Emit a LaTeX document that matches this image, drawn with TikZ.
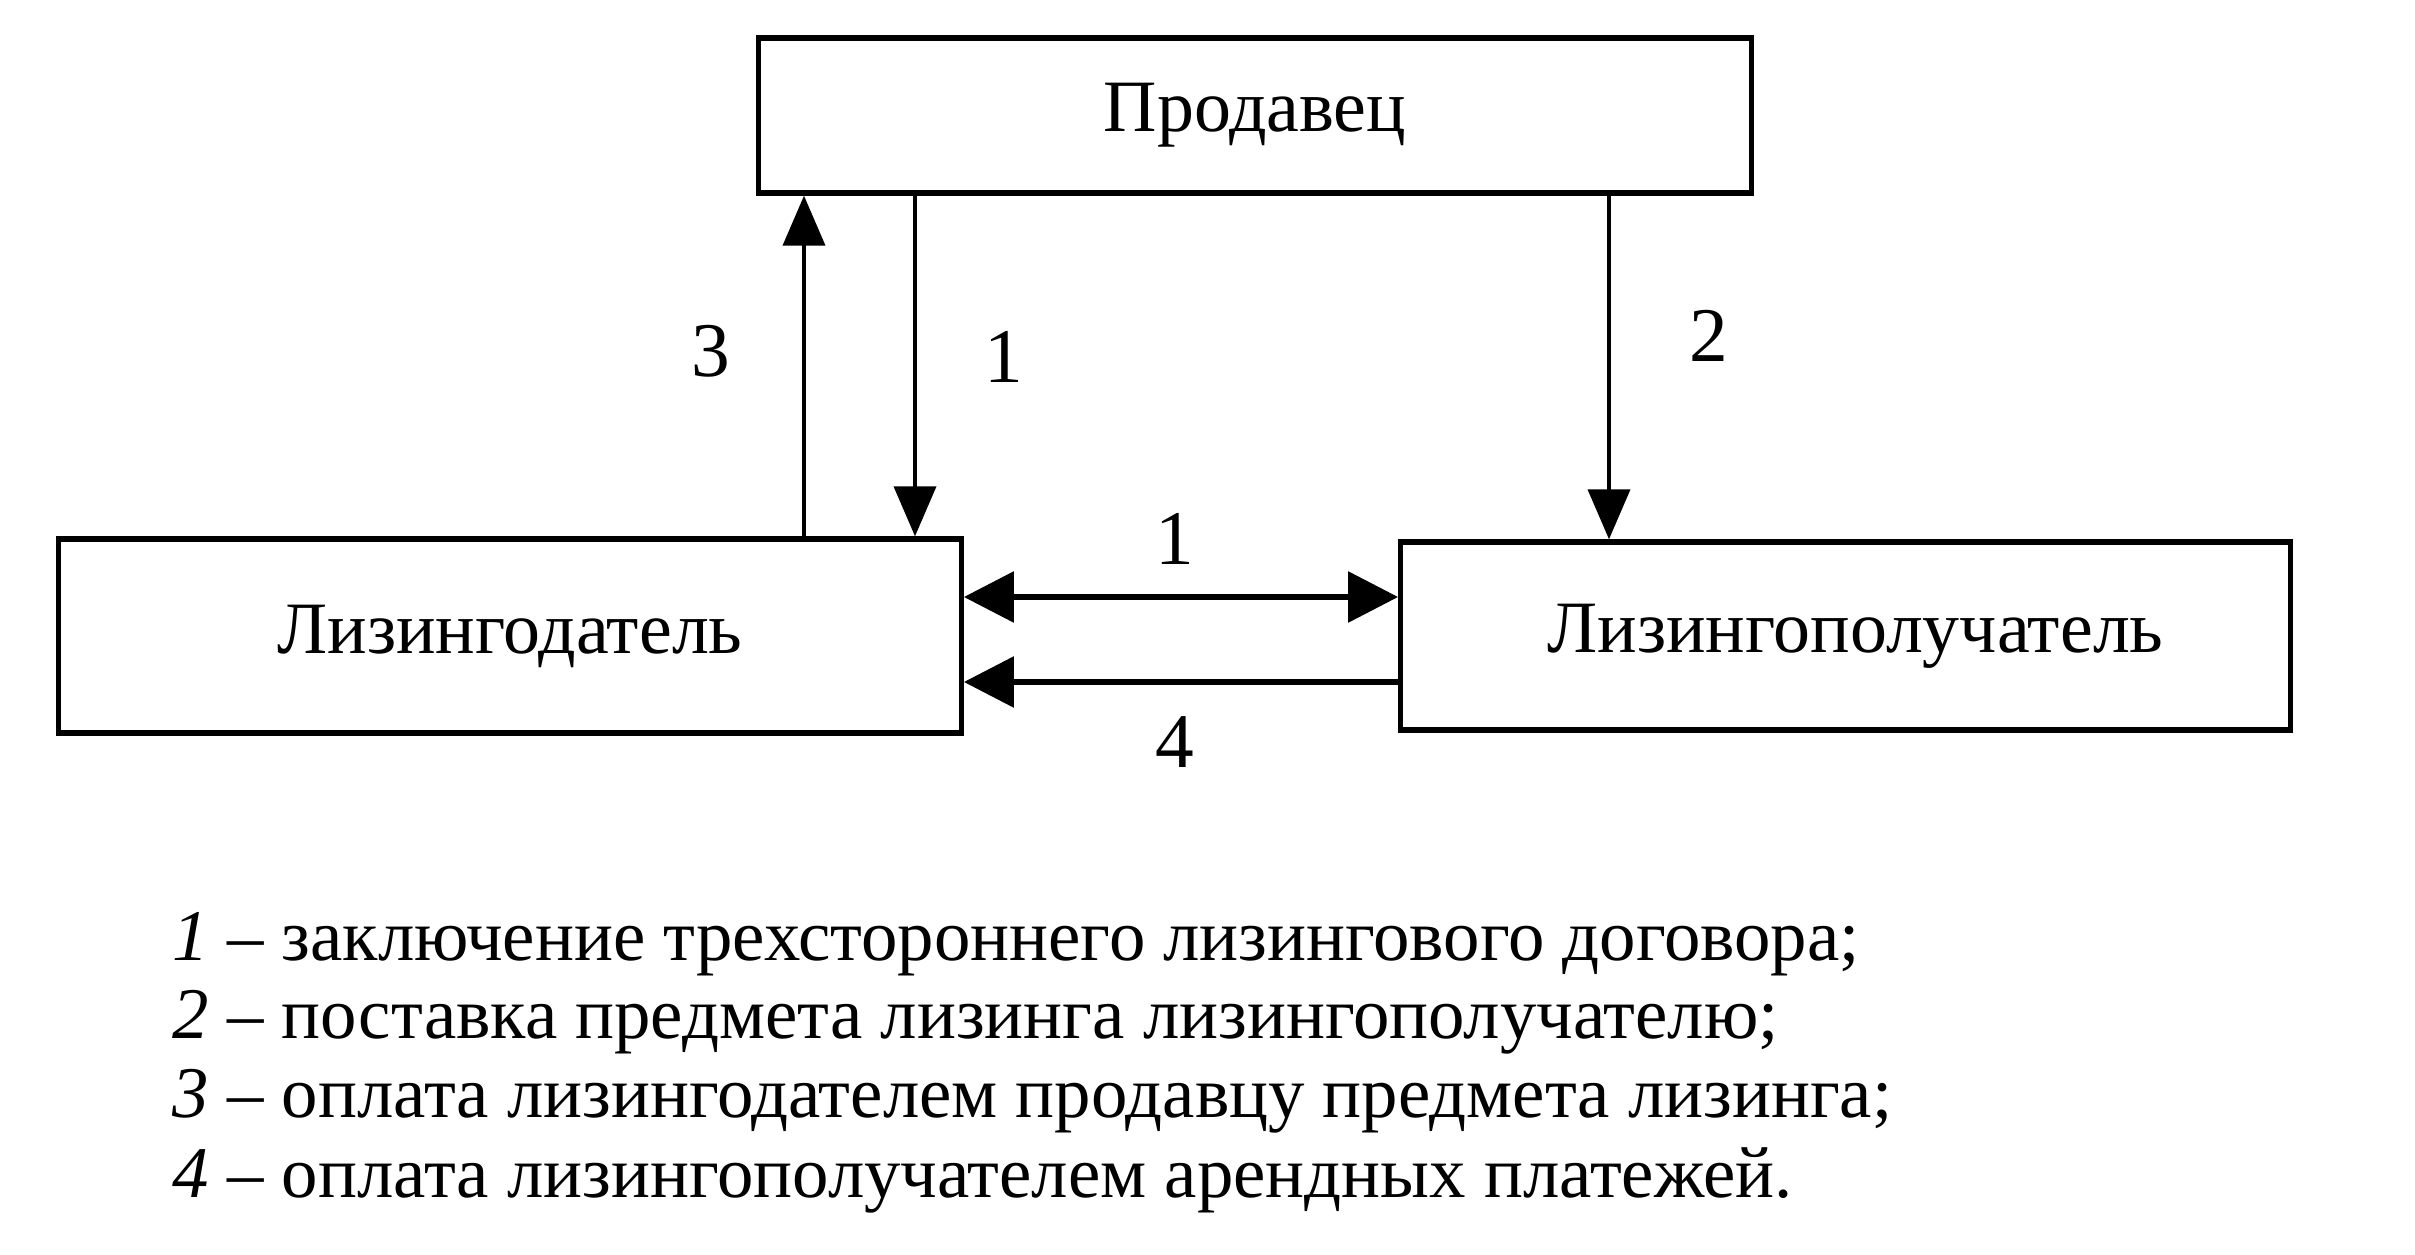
\documentclass[tikz,border=0pt]{standalone}
\usepackage{fontspec}
\setmainfont{Liberation Serif}
\usetikzlibrary{arrows.meta}
\begin{document}
\begin{tikzpicture}[x=0.01cm,y=-0.01cm,
  box/.style={draw,line width=1.5pt,inner sep=0pt,font=\fontsize{21}{25}\selectfont},
  tip/.style={Triangle[length=0.5cm,width=0.42cm]},
  htip/.style={Triangle[length=0.5cm,width=0.5cm]},
  conn/.style={line width=1.1pt,-{Triangle[length=0.5cm,width=0.42cm]}},
  hconn/.style={line width=1.7pt},
  lbl/.style={font=\fontsize{22}{26}\selectfont},
  leg/.style={anchor=base west,inner sep=0pt,font=\fontsize{20.7}{25}\selectfont}]
\useasboundingbox (0,0) rectangle (2415,1255);
\node[box,minimum width=9.92cm,minimum height=1.55cm] (prod) at (1255,115.5) {Продавец};
\node[box,minimum width=9.02cm,minimum height=1.94cm] (ld) at (510,636) {Лизингодатель};
\node[box,minimum width=8.89cm,minimum height=1.88cm] (lp) at (1845.5,636) {\hspace{0.2cm}Лизингополучатель};
% vertical connectors
\draw[conn] (ld.north -| 804,0) -- (prod.south -| 804,0);
\draw[conn] (prod.south -| 915,0) -- (ld.north -| 915,0);
\draw[conn] (prod.south -| 1609,0) -- (lp.north -| 1609,0);
% horizontal connectors
\draw[hconn,{Triangle[length=0.5cm,width=0.5cm]}-{Triangle[length=0.5cm,width=0.5cm]}] (ld.east |- 0,597) -- (lp.west |- 0,597);
\draw[hconn,-{Triangle[length=0.5cm,width=0.5cm]}] (lp.west |- 0,682) -- (ld.east |- 0,682);
% labels
\node[lbl] (l3) at (711,351) {3};
\node[lbl] (l1a) at (1004,357) {1};
\node[lbl] (l2) at (1709,336) {2};
\node[lbl] (l1b) at (1175,539) {1};
\node[lbl] (l4) at (1175,742) {4};
% legend
\node[leg] (g1) at (172,960) {\textit{1} – заключение трехстороннего лизингового договора;};
\node[leg] (g2) at (172,1038) {\textit{2} – поставка предмета лизинга лизингополучателю;};
\node[leg] (g3) at (172,1117) {\textit{3} – оплата лизингодателем продавцу предмета лизинга;};
\node[leg] (g4) at (172,1197) {\textit{4} – оплата лизингополучателем арендных платежей.};
\end{tikzpicture}
\end{document}
